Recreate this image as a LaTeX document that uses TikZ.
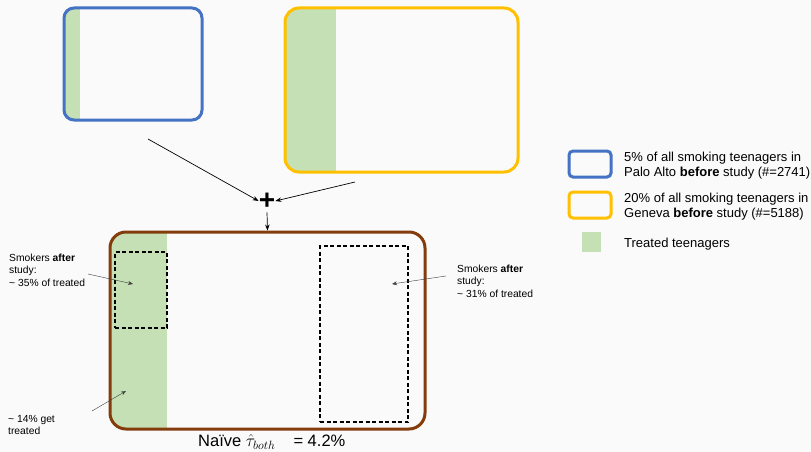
\documentclass[tikz,border=0pt]{standalone}
\usepackage{fontspec}
\setmainfont{Liberation Sans}
\usetikzlibrary{arrows.meta}
\definecolor{bgc}{HTML}{FAFAFA}
\definecolor{pablue}{HTML}{4472C4}
\definecolor{genyel}{HTML}{FFC000}
\definecolor{treatg}{HTML}{C5E0B4}
\definecolor{bothbr}{HTML}{843C0C}
\tikzset{
  grp/.style={draw, line width=3pt, rounded corners=10pt, inner sep=0pt},
  dbox/.style={draw, dashed, line width=1.4pt, dash pattern=on 4pt off 2.5pt, inner sep=0pt},
  arr/.style={-{Stealth[length=6pt,width=4.5pt]}, line width=0.7pt},
  thin arr/.style={-{Stealth[length=5pt,width=4pt]}, line width=0.4pt, draw=black!75},
  small/.style={font=\fontsize{10.3}{12.5}\selectfont, align=left, anchor=west, inner sep=0pt},
  leg/.style={font=\fontsize{13}{15}\selectfont, align=left, anchor=west, inner sep=0pt},
}
\begin{document}
\begin{tikzpicture}[x=1pt,y=-1pt]
\fill[bgc] (0,0) rectangle (811,452);
\useasboundingbox (0,0) rectangle (811,452);
% green strips
\begin{scope}
\clip[rounded corners=10pt] (64,8) rectangle (202,120);
\fill[treatg] (64,8) rectangle (80,120);
\end{scope}
\begin{scope}
\clip[rounded corners=14pt] (285,8) rectangle (518,172);
\fill[treatg] (285,8) rectangle (336,172);
\end{scope}
\begin{scope}
\clip[rounded corners=16pt] (110,232) rectangle (425,429);
\fill[treatg] (110,232) rectangle (167,429);
\end{scope}
% boxes
\node[grp, draw=pablue, minimum width=138pt, minimum height=112pt] (pa) at (133,64) {};
\node[grp, draw=genyel, rounded corners=14pt, minimum width=233pt, minimum height=164pt] (ge) at (401.5,90) {};
\node[grp, draw=bothbr, rounded corners=16pt, minimum width=315pt, minimum height=197pt] (both) at (267.5,330.5) {};
\node[dbox, minimum width=52pt, minimum height=76pt] (d1) at (141,290) {};
\node[dbox, minimum width=88pt, minimum height=176pt] (d2) at (364,334) {};
% plus
\node[font=\fontsize{28}{28}\selectfont\bfseries, inner sep=0pt] (plus) at (267,201) {+};
\coordinate (pas) at (148,139);
\coordinate (ges) at (355,182);
\draw[arr] (pas) -- (plus.west);
\draw[arr] (ges) -- (plus.east);
\draw[arr] ([yshift=-3pt]plus.south) -- (both.north);
% labels
\node[small] (l1) at (9,270) {Smokers \textbf{after}\\study:\\\textasciitilde{} 35\% of treated};
\node[small] (l2) at (8,425) {\textasciitilde{} 14\% get\\treated};
\node[small] (l3) at (457,281) {Smokers \textbf{after}\\study:\\\textasciitilde{} 31\% of treated};
\coordinate (a1s) at (88,274);
\coordinate (a1e) at (133,284);
\coordinate (a2s) at (92,411);
\coordinate (a2e) at (126,391);
\coordinate (a3s) at (446,276);
\coordinate (a3e) at (392,284);
\draw[thin arr] (a1s) -- (a1e);
\draw[thin arr] (a2s) -- (a2e);
\draw[thin arr] (a3s) -- (a3e);
\node[font=\fontsize{16.5}{18}\selectfont, inner sep=0pt, anchor=west] (res) at (198,442) {Naïve $\hat{\tau}_{both}$\hspace{1.1em}= 4.2\%};
% legend
\node[draw=pablue, line width=3pt, rounded corners=4pt, minimum width=42pt, minimum height=26pt, inner sep=0pt] (lg1) at (590,164) {};
\node[draw=genyel, line width=3pt, rounded corners=4pt, minimum width=42pt, minimum height=26pt, inner sep=0pt] (lg2) at (590,205) {};
\fill[treatg] (582,232) rectangle (601,252);
\coordinate (lg3) at (591.5,242);
\node[leg] (t1) at (624,166) {5\% of all smoking teenagers in\\Palo Alto \textbf{before} study (\#=2741)};
\node[leg] (t2) at (624,207) {20\% of all smoking teenagers in\\Geneva \textbf{before} study (\#=5188)};
\node[leg] (t3) at (624,244) {Treated teenagers};
\end{tikzpicture}
\end{document}
